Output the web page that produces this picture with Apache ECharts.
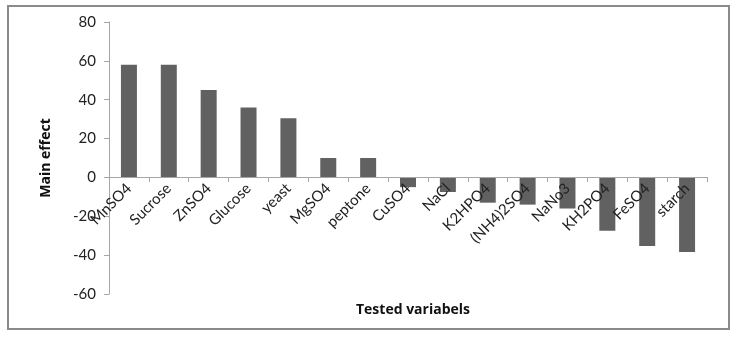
<!DOCTYPE html>
<html>
<head>
<meta charset="utf-8">
<script src="https://cdn.jsdelivr.net/npm/echarts@6/dist/echarts.min.js"></script>
<style>html,body{margin:0;padding:0;background:#fff}#c{width:736px;height:338px}</style>
</head>
<body>
<div id="c"></div>
<script>
var categories = ['MnSO4','Sucrose','ZnSO4','Glucose','yeast','MgSO4','peptone','CuSO4','NaCl','K2HPO4','(NH4)2SO4','NaNo3','KH2PO4','FeSO4','starch'];
var mainEffect = [58, 58, 45, 36, 30.5, 10, 10, -5, -7.5, -13, -14, -16, -27.5, -35.3, -38.4];
var yTicks = [-60, -40, -20, 0, 20, 40, 60, 80];

var chart = echarts.init(document.getElementById('c'), null, {renderer: 'canvas'});
var font = 'Lato, Open Sans, sans-serif';
chart.setOption({
  animation: false,
  backgroundColor: '#fff',
  grid: {left: 109, right: 29, top: 22, bottom: 44, containLabel: false, outerBoundsMode: 'none'},
  title: {
    text: 'Tested variabels',
    left: 408, top: 298, textAlign: 'center',
    textStyle: {fontFamily: 'Open Sans, sans-serif', fontSize: 14, fontWeight: 'bold', color: '#111'}
  },
  graphic: [
    {type: 'rect', shape: {x: 8, y: 6, width: 721, height: 323}, style: {fill: 'none', stroke: '#8a8a8a', lineWidth: 2}, silent: true}
  ],
  xAxis: {
    type: 'category',
    data: categories,
    offset: -117,
    z: 5,
    axisLine: {onZero: false, lineStyle: {color: '#a6a6a6', width: 1}},
    axisTick: {show: true, alignWithLabel: false, length: 5, inside: false, lineStyle: {color: '#a6a6a6'}},
    axisLabel: {rotate: 45, margin: 9, interval: 0, fontFamily: font, fontSize: 15, color: '#222'},
    splitLine: {show: false}
  },
  yAxis: {
    type: 'value',
    min: -60, max: 80, interval: 20,
    name: 'Main effect',
    nameLocation: 'middle',
    nameGap: 56,
    nameRotate: 90,
    nameTextStyle: {fontFamily: 'Open Sans, sans-serif', fontSize: 14, fontWeight: 'bold', color: '#111'},
    axisLine: {show: true, lineStyle: {color: '#a6a6a6', width: 1}},
    axisTick: {show: true, length: 5, lineStyle: {color: '#a6a6a6'}},
    axisLabel: {margin: 13, fontFamily: font, fontSize: 15, color: '#222',
      formatter: function (v) { return yTicks.indexOf(v) >= 0 ? String(v) : ''; }},
    splitLine: {show: false}
  },
  series: [{
    type: 'bar',
    data: mainEffect,
    barWidth: 16,
    itemStyle: {color: '#616161'}
  }]
});
</script>
</body>
</html>
